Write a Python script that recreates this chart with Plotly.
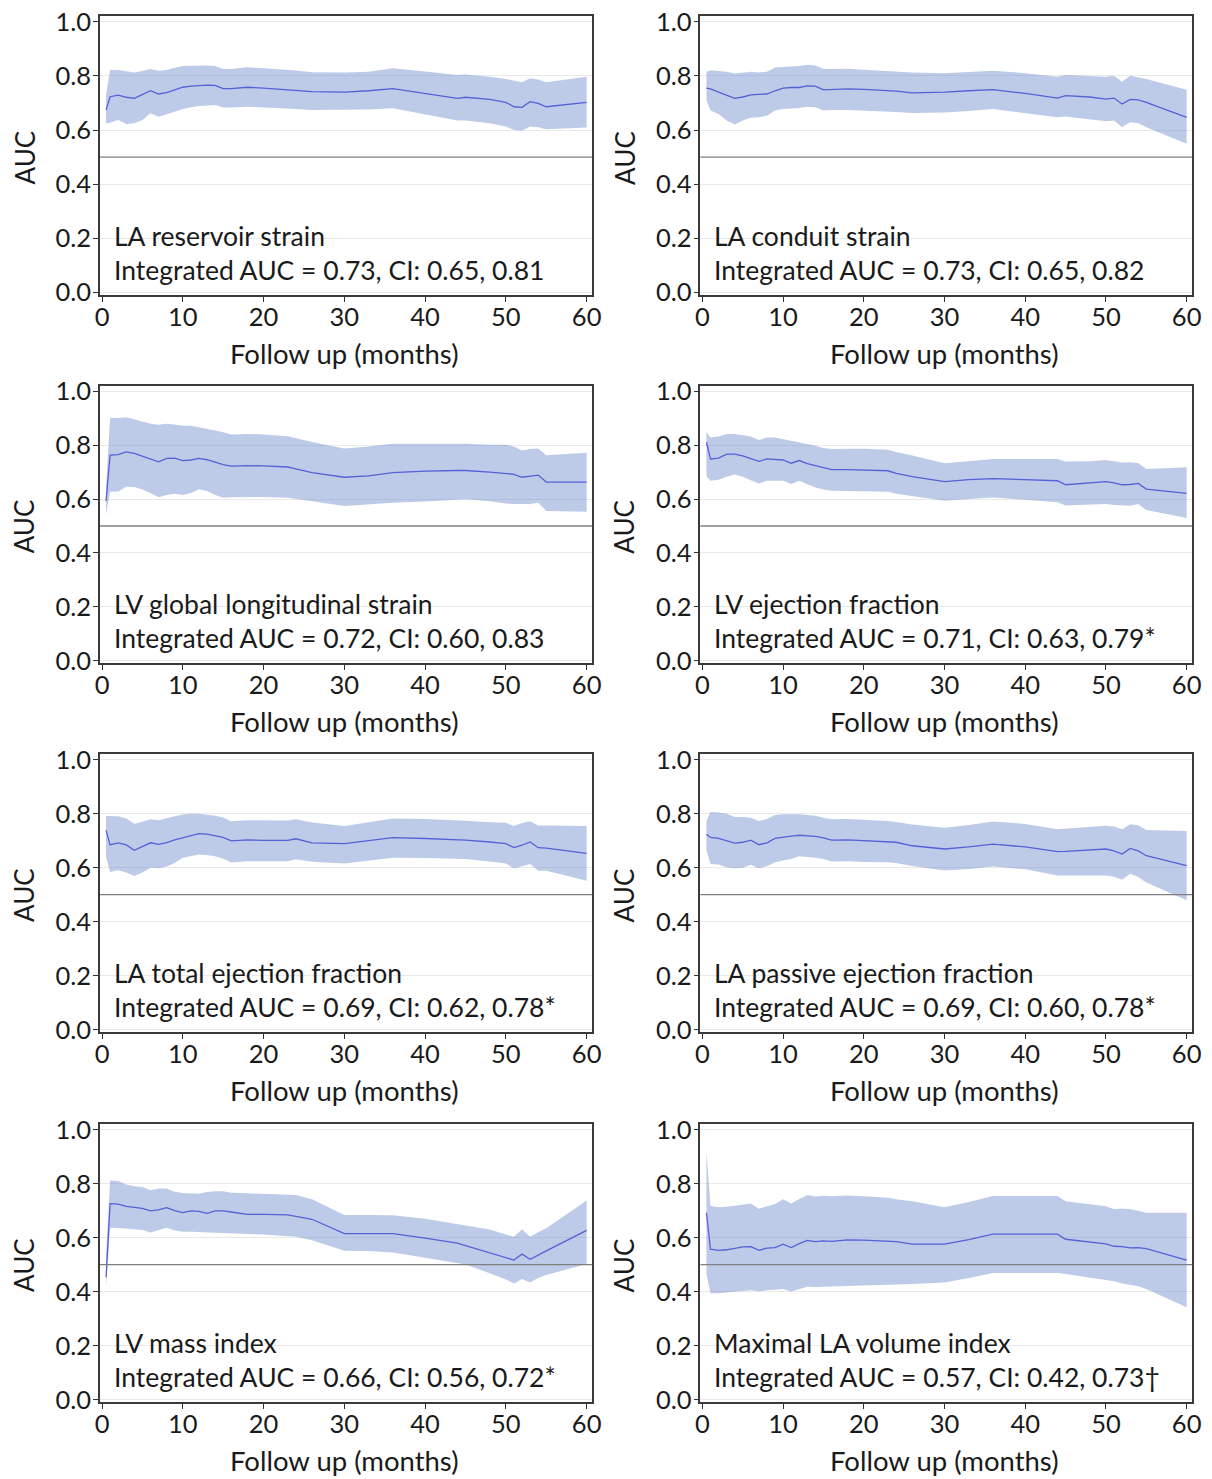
import plotly.graph_objects as go

# ---------------- data ----------------
MONTHS = [0.5, 1, 2, 3, 4, 5, 6, 7, 8, 9, 10, 11, 12, 13, 14, 15, 16, 18, 20, 23,
          24, 26, 30, 33, 36, 40, 44, 45, 48, 50, 51, 52, 53, 54, 55, 60]

la_reservoir_auc = [0.674, 0.723, 0.729, 0.721, 0.717, 0.732, 0.745, 0.733, 0.738, 0.748, 0.758, 0.762,
                    0.765, 0.766, 0.765, 0.753, 0.753, 0.758, 0.755, 0.748, 0.746, 0.742, 0.740, 0.745,
                    0.753, 0.736, 0.717, 0.721, 0.713, 0.702, 0.686, 0.684, 0.705, 0.698, 0.686, 0.702]
la_reservoir_hi = [0.730, 0.822, 0.822, 0.818, 0.812, 0.818, 0.825, 0.819, 0.822, 0.830, 0.836, 0.837,
                   0.838, 0.838, 0.836, 0.825, 0.825, 0.832, 0.828, 0.822, 0.820, 0.813, 0.812, 0.815,
                   0.828, 0.816, 0.803, 0.805, 0.797, 0.788, 0.783, 0.776, 0.791, 0.787, 0.776, 0.797]
la_reservoir_lo = [0.625, 0.627, 0.637, 0.622, 0.625, 0.637, 0.662, 0.649, 0.658, 0.668, 0.678, 0.684,
                   0.689, 0.691, 0.692, 0.683, 0.683, 0.686, 0.684, 0.680, 0.678, 0.674, 0.674, 0.676,
                   0.680, 0.658, 0.635, 0.635, 0.625, 0.613, 0.600, 0.597, 0.613, 0.610, 0.603, 0.609]

la_conduit_auc = [0.755, 0.752, 0.740, 0.728, 0.717, 0.722, 0.730, 0.732, 0.733, 0.745, 0.755, 0.757,
                  0.757, 0.763, 0.762, 0.748, 0.750, 0.752, 0.750, 0.746, 0.744, 0.737, 0.740, 0.745,
                  0.749, 0.735, 0.718, 0.727, 0.722, 0.714, 0.718, 0.696, 0.713, 0.711, 0.702, 0.647]
la_conduit_hi = [0.815, 0.821, 0.818, 0.815, 0.809, 0.812, 0.815, 0.812, 0.815, 0.831, 0.834, 0.835,
                 0.836, 0.841, 0.838, 0.825, 0.825, 0.826, 0.823, 0.818, 0.816, 0.812, 0.810, 0.815,
                 0.819, 0.810, 0.797, 0.803, 0.801, 0.797, 0.800, 0.778, 0.800, 0.795, 0.788, 0.749]
la_conduit_lo = [0.710, 0.672, 0.659, 0.635, 0.620, 0.635, 0.645, 0.647, 0.653, 0.672, 0.678, 0.680,
                 0.681, 0.686, 0.684, 0.672, 0.674, 0.674, 0.672, 0.669, 0.667, 0.663, 0.665, 0.670,
                 0.678, 0.662, 0.647, 0.650, 0.640, 0.632, 0.635, 0.610, 0.629, 0.625, 0.610, 0.549]

lv_gls_auc = [0.593, 0.763, 0.765, 0.775, 0.770, 0.760, 0.748, 0.738, 0.751, 0.752, 0.743, 0.745,
              0.751, 0.746, 0.737, 0.728, 0.722, 0.724, 0.723, 0.719, 0.712, 0.698, 0.681, 0.686,
              0.698, 0.704, 0.706, 0.706, 0.700, 0.695, 0.692, 0.681, 0.684, 0.689, 0.663, 0.663]
lv_gls_hi = [0.645, 0.901, 0.901, 0.904, 0.896, 0.887, 0.880, 0.876, 0.880, 0.877, 0.872, 0.872,
             0.867, 0.862, 0.855, 0.848, 0.840, 0.842, 0.840, 0.833, 0.826, 0.812, 0.788, 0.795,
             0.805, 0.805, 0.806, 0.805, 0.802, 0.802, 0.795, 0.780, 0.786, 0.788, 0.763, 0.772]
lv_gls_lo = [0.543, 0.627, 0.628, 0.646, 0.645, 0.635, 0.622, 0.607, 0.615, 0.620, 0.615, 0.622,
             0.636, 0.630, 0.615, 0.605, 0.607, 0.608, 0.608, 0.605, 0.600, 0.592, 0.574, 0.580,
             0.586, 0.591, 0.596, 0.599, 0.592, 0.583, 0.582, 0.583, 0.582, 0.586, 0.556, 0.553]

lv_ef_auc = [0.811, 0.749, 0.752, 0.767, 0.767, 0.760, 0.750, 0.740, 0.749, 0.748, 0.745, 0.733,
             0.743, 0.732, 0.724, 0.716, 0.709, 0.709, 0.708, 0.705, 0.695, 0.683, 0.665, 0.672,
             0.676, 0.672, 0.668, 0.653, 0.659, 0.665, 0.660, 0.653, 0.654, 0.658, 0.637, 0.621]
lv_ef_hi = [0.848, 0.829, 0.832, 0.842, 0.842, 0.838, 0.832, 0.819, 0.829, 0.829, 0.823, 0.815,
            0.811, 0.805, 0.798, 0.790, 0.786, 0.787, 0.787, 0.783, 0.775, 0.762, 0.733, 0.740,
            0.749, 0.749, 0.749, 0.739, 0.740, 0.745, 0.741, 0.736, 0.737, 0.734, 0.712, 0.718]
lv_ef_lo = [0.685, 0.668, 0.672, 0.683, 0.691, 0.683, 0.670, 0.658, 0.668, 0.668, 0.668, 0.656,
            0.668, 0.655, 0.643, 0.635, 0.631, 0.630, 0.628, 0.627, 0.620, 0.612, 0.594, 0.600,
            0.606, 0.597, 0.588, 0.576, 0.578, 0.582, 0.578, 0.576, 0.575, 0.582, 0.559, 0.530]

la_total_ef_auc = [0.738, 0.684, 0.692, 0.684, 0.664, 0.677, 0.692, 0.686, 0.693, 0.703, 0.711, 0.718,
                   0.726, 0.724, 0.719, 0.712, 0.699, 0.703, 0.701, 0.701, 0.707, 0.692, 0.689, 0.700,
                   0.711, 0.708, 0.704, 0.702, 0.695, 0.689, 0.674, 0.683, 0.695, 0.674, 0.672, 0.653]
la_total_ef_hi = [0.791, 0.790, 0.790, 0.782, 0.763, 0.770, 0.779, 0.776, 0.782, 0.790, 0.797, 0.800,
                  0.800, 0.797, 0.792, 0.786, 0.772, 0.776, 0.776, 0.775, 0.779, 0.767, 0.754, 0.768,
                  0.782, 0.780, 0.776, 0.774, 0.768, 0.766, 0.754, 0.765, 0.772, 0.756, 0.756, 0.754]
la_total_ef_lo = [0.640, 0.584, 0.590, 0.582, 0.569, 0.582, 0.600, 0.598, 0.604, 0.617, 0.637, 0.644,
                  0.649, 0.647, 0.642, 0.633, 0.619, 0.624, 0.623, 0.624, 0.631, 0.622, 0.615, 0.625,
                  0.637, 0.636, 0.634, 0.632, 0.623, 0.615, 0.597, 0.604, 0.613, 0.588, 0.588, 0.551]

la_passive_ef_auc = [0.724, 0.712, 0.708, 0.700, 0.691, 0.694, 0.702, 0.685, 0.692, 0.708, 0.713, 0.717,
                     0.720, 0.719, 0.716, 0.710, 0.702, 0.703, 0.700, 0.697, 0.694, 0.681, 0.669, 0.677,
                     0.687, 0.677, 0.659, 0.660, 0.664, 0.669, 0.662, 0.650, 0.671, 0.662, 0.644, 0.607]
la_passive_ef_hi = [0.773, 0.806, 0.804, 0.800, 0.788, 0.788, 0.785, 0.773, 0.780, 0.795, 0.798, 0.799,
                    0.798, 0.795, 0.792, 0.785, 0.779, 0.780, 0.778, 0.773, 0.769, 0.760, 0.748, 0.758,
                    0.771, 0.762, 0.742, 0.744, 0.750, 0.755, 0.752, 0.742, 0.761, 0.757, 0.739, 0.736]
la_passive_ef_lo = [0.665, 0.613, 0.612, 0.601, 0.598, 0.600, 0.611, 0.598, 0.605, 0.620, 0.626, 0.632,
                    0.642, 0.640, 0.637, 0.632, 0.623, 0.624, 0.621, 0.620, 0.617, 0.606, 0.589, 0.595,
                    0.604, 0.594, 0.571, 0.571, 0.571, 0.571, 0.566, 0.555, 0.577, 0.565, 0.545, 0.479]

lv_mass_auc = [0.453, 0.726, 0.724, 0.716, 0.712, 0.708, 0.699, 0.703, 0.711, 0.700, 0.693, 0.699,
               0.697, 0.690, 0.699, 0.699, 0.695, 0.686, 0.686, 0.684, 0.679, 0.668, 0.615, 0.615,
               0.615, 0.598, 0.580, 0.570, 0.543, 0.525, 0.517, 0.539, 0.520, 0.535, 0.551, 0.627]
lv_mass_hi = [0.530, 0.812, 0.810, 0.797, 0.790, 0.788, 0.776, 0.782, 0.782, 0.770, 0.765, 0.765,
              0.763, 0.769, 0.772, 0.772, 0.766, 0.764, 0.762, 0.760, 0.758, 0.742, 0.684, 0.684,
              0.683, 0.670, 0.650, 0.646, 0.630, 0.612, 0.603, 0.631, 0.603, 0.620, 0.635, 0.738]
lv_mass_lo = [0.416, 0.637, 0.636, 0.634, 0.630, 0.628, 0.619, 0.628, 0.637, 0.626, 0.622, 0.622,
              0.620, 0.618, 0.618, 0.617, 0.615, 0.613, 0.612, 0.606, 0.603, 0.590, 0.551, 0.550,
              0.545, 0.525, 0.506, 0.500, 0.468, 0.445, 0.430, 0.447, 0.434, 0.450, 0.462, 0.502]

la_volume_auc = [0.692, 0.557, 0.553, 0.555, 0.560, 0.566, 0.567, 0.553, 0.561, 0.563, 0.576, 0.563,
                 0.578, 0.590, 0.585, 0.588, 0.586, 0.592, 0.591, 0.588, 0.585, 0.576, 0.576, 0.593,
                 0.613, 0.613, 0.613, 0.594, 0.585, 0.577, 0.568, 0.567, 0.562, 0.563, 0.559, 0.517]
la_volume_hi = [0.920, 0.717, 0.713, 0.714, 0.718, 0.721, 0.726, 0.707, 0.716, 0.725, 0.742, 0.726,
                0.743, 0.758, 0.752, 0.755, 0.753, 0.756, 0.753, 0.748, 0.742, 0.735, 0.713, 0.732,
                0.754, 0.754, 0.754, 0.735, 0.725, 0.716, 0.705, 0.708, 0.705, 0.700, 0.692, 0.692]
la_volume_lo = [0.465, 0.394, 0.394, 0.397, 0.401, 0.404, 0.405, 0.400, 0.405, 0.407, 0.410, 0.400,
                0.410, 0.418, 0.417, 0.418, 0.419, 0.421, 0.422, 0.424, 0.426, 0.428, 0.434, 0.450,
                0.469, 0.469, 0.469, 0.465, 0.452, 0.445, 0.438, 0.430, 0.425, 0.420, 0.410, 0.342]

PANEL_NAMES = ["LA reservoir strain", "LA conduit strain", "LV global longitudinal strain",
               "LV ejection fraction", "LA total ejection fraction", "LA passive ejection fraction",
               "LV mass index", "Maximal LA volume index"]
PANEL_STATS = ["Integrated AUC = 0.73, CI: 0.65, 0.81",
               "Integrated AUC = 0.73, CI: 0.65, 0.82",
               "Integrated AUC = 0.72, CI: 0.60, 0.83",
               "Integrated AUC = 0.71, CI: 0.63, 0.79*",
               "Integrated AUC = 0.69, CI: 0.62, 0.78*",
               "Integrated AUC = 0.69, CI: 0.60, 0.78*",
               "Integrated AUC = 0.66, CI: 0.56, 0.72*",
               "Integrated AUC = 0.57, CI: 0.42, 0.73\u2020"]
PANEL_DATA = [
    (la_reservoir_auc, la_reservoir_lo, la_reservoir_hi),
    (la_conduit_auc, la_conduit_lo, la_conduit_hi),
    (lv_gls_auc, lv_gls_lo, lv_gls_hi),
    (lv_ef_auc, lv_ef_lo, lv_ef_hi),
    (la_total_ef_auc, la_total_ef_lo, la_total_ef_hi),
    (la_passive_ef_auc, la_passive_ef_lo, la_passive_ef_hi),
    (lv_mass_auc, lv_mass_lo, lv_mass_hi),
    (la_volume_auc, la_volume_lo, la_volume_hi),
]
X_TICKS = [0, 10, 20, 30, 40, 50, 60]
Y_TICKS = [0.0, 0.2, 0.4, 0.6, 0.8, 1.0]
REF_LINE = 0.5

# ---------------- layout / style ----------------
W, H = 1212, 1479
FONT = "Lato, 'Open Sans', sans-serif"
TXT = "#1a1a1a"
BAND = "rgba(110,140,205,0.45)"
LINE = "#5561d6"

COL_PX = [(100.0, 592.3), (700.4, 1192.3)]          # page pixels
ROW_PX = [(16.0, 295.0), (385.7, 663.0), (754.0, 1032.0), (1124.0, 1402.0)]
XR = [-0.25, 60.7]
YR = [-0.009, 1.021]

fig = go.Figure()
layout = dict(width=W, height=H, margin=dict(l=0, r=0, t=0, b=0, pad=0, autoexpand=False),
              template="simple_white",
              paper_bgcolor="white", plot_bgcolor="white", showlegend=False,
              font=dict(family=FONT, color=TXT, size=25))
annotations = []
shapes = []

for i, (auc, lo, hi) in enumerate(PANEL_DATA):
    r, c = divmod(i, 2)
    n = i + 1
    xa = "x" if n == 1 else f"x{n}"
    ya = "y" if n == 1 else f"y{n}"
    xk = "xaxis" if n == 1 else f"xaxis{n}"
    yk = "yaxis" if n == 1 else f"yaxis{n}"
    x0, x1 = COL_PX[c]
    top, bot = ROW_PX[r]
    layout[xk] = dict(domain=[x0 / W, x1 / W], anchor=ya, range=XR,
                      automargin=False, ticklabeloverflow="allow", ticklabelstandoff=-6,
                      tickvals=X_TICKS, ticks="outside", ticklen=5, tickcolor="#333",
                      showgrid=False, zeroline=False, showline=True, linecolor="#3a3a3a",
                      linewidth=1.5, mirror=True, tickfont=dict(size=25.5, color=TXT))
    layout[yk] = dict(domain=[1 - bot / H, 1 - top / H], anchor=xa,
                      range=YR, automargin=False, ticklabeloverflow="allow", ticklabelstandoff=-3,
                      tickvals=Y_TICKS, ticktext=[f"{v:.1f}" for v in Y_TICKS],
                      ticks="outside", ticklen=5, tickcolor="#333",
                      showgrid=True, gridcolor="#e9e9e9", gridwidth=1, zeroline=False,
                      showline=True, linecolor="#3a3a3a", linewidth=1.5, mirror=True,
                      tickfont=dict(size=25.5, color=TXT))
    fig.add_trace(go.Scatter(x=MONTHS, y=lo, mode="lines", line=dict(width=0, color=BAND),
                             xaxis=xa, yaxis=ya, hoverinfo="skip"))
    fig.add_trace(go.Scatter(x=MONTHS, y=hi, mode="lines", line=dict(width=0, color=BAND),
                             fill="tonexty", fillcolor=BAND, xaxis=xa, yaxis=ya, hoverinfo="skip"))
    fig.add_trace(go.Scatter(x=MONTHS, y=auc, mode="lines", line=dict(width=1.3, color=LINE),
                             xaxis=xa, yaxis=ya))
    shapes.append(dict(type="line", xref=f"{xa} domain", yref=ya, x0=0, x1=1,
                       y0=REF_LINE, y1=REF_LINE, layer="above", opacity=1,
                       line=dict(color="#7f7f7f", width=1.4)))
    annotations.append(dict(text=PANEL_NAMES[i], xref=xa, yref=ya, x=1.2, y=0.209,
                            xanchor="left", yanchor="middle", showarrow=False,
                            font=dict(size=26.5, color=TXT)))
    annotations.append(dict(text=PANEL_STATS[i], xref=xa, yref=ya, x=1.2, y=0.084,
                            xanchor="left", yanchor="middle", showarrow=False,
                            font=dict(size=26.5, color=TXT)))
    annotations.append(dict(text="AUC", xref=f"{xa} domain", yref=f"{ya} domain",
                            x=0, y=0.5, xshift=-76, yshift=-2, textangle=-90,
                            xanchor="center", yanchor="middle", showarrow=False,
                            font=dict(size=26, color=TXT)))
    annotations.append(dict(text="Follow up (months)", xref=f"{xa} domain", yref=f"{ya} domain",
                            x=0.5, y=0, xshift=-2, yshift=-58,
                            xanchor="center", yanchor="middle", showarrow=False,
                            font=dict(size=27.5, color=TXT)))

layout["annotations"] = annotations
layout["shapes"] = shapes
fig.update_layout(**layout)
fig.write_html("out.html", config={"displayModeBar": False},
               post_script="document.body.style.margin='0';document.body.style.overflow='hidden';")
